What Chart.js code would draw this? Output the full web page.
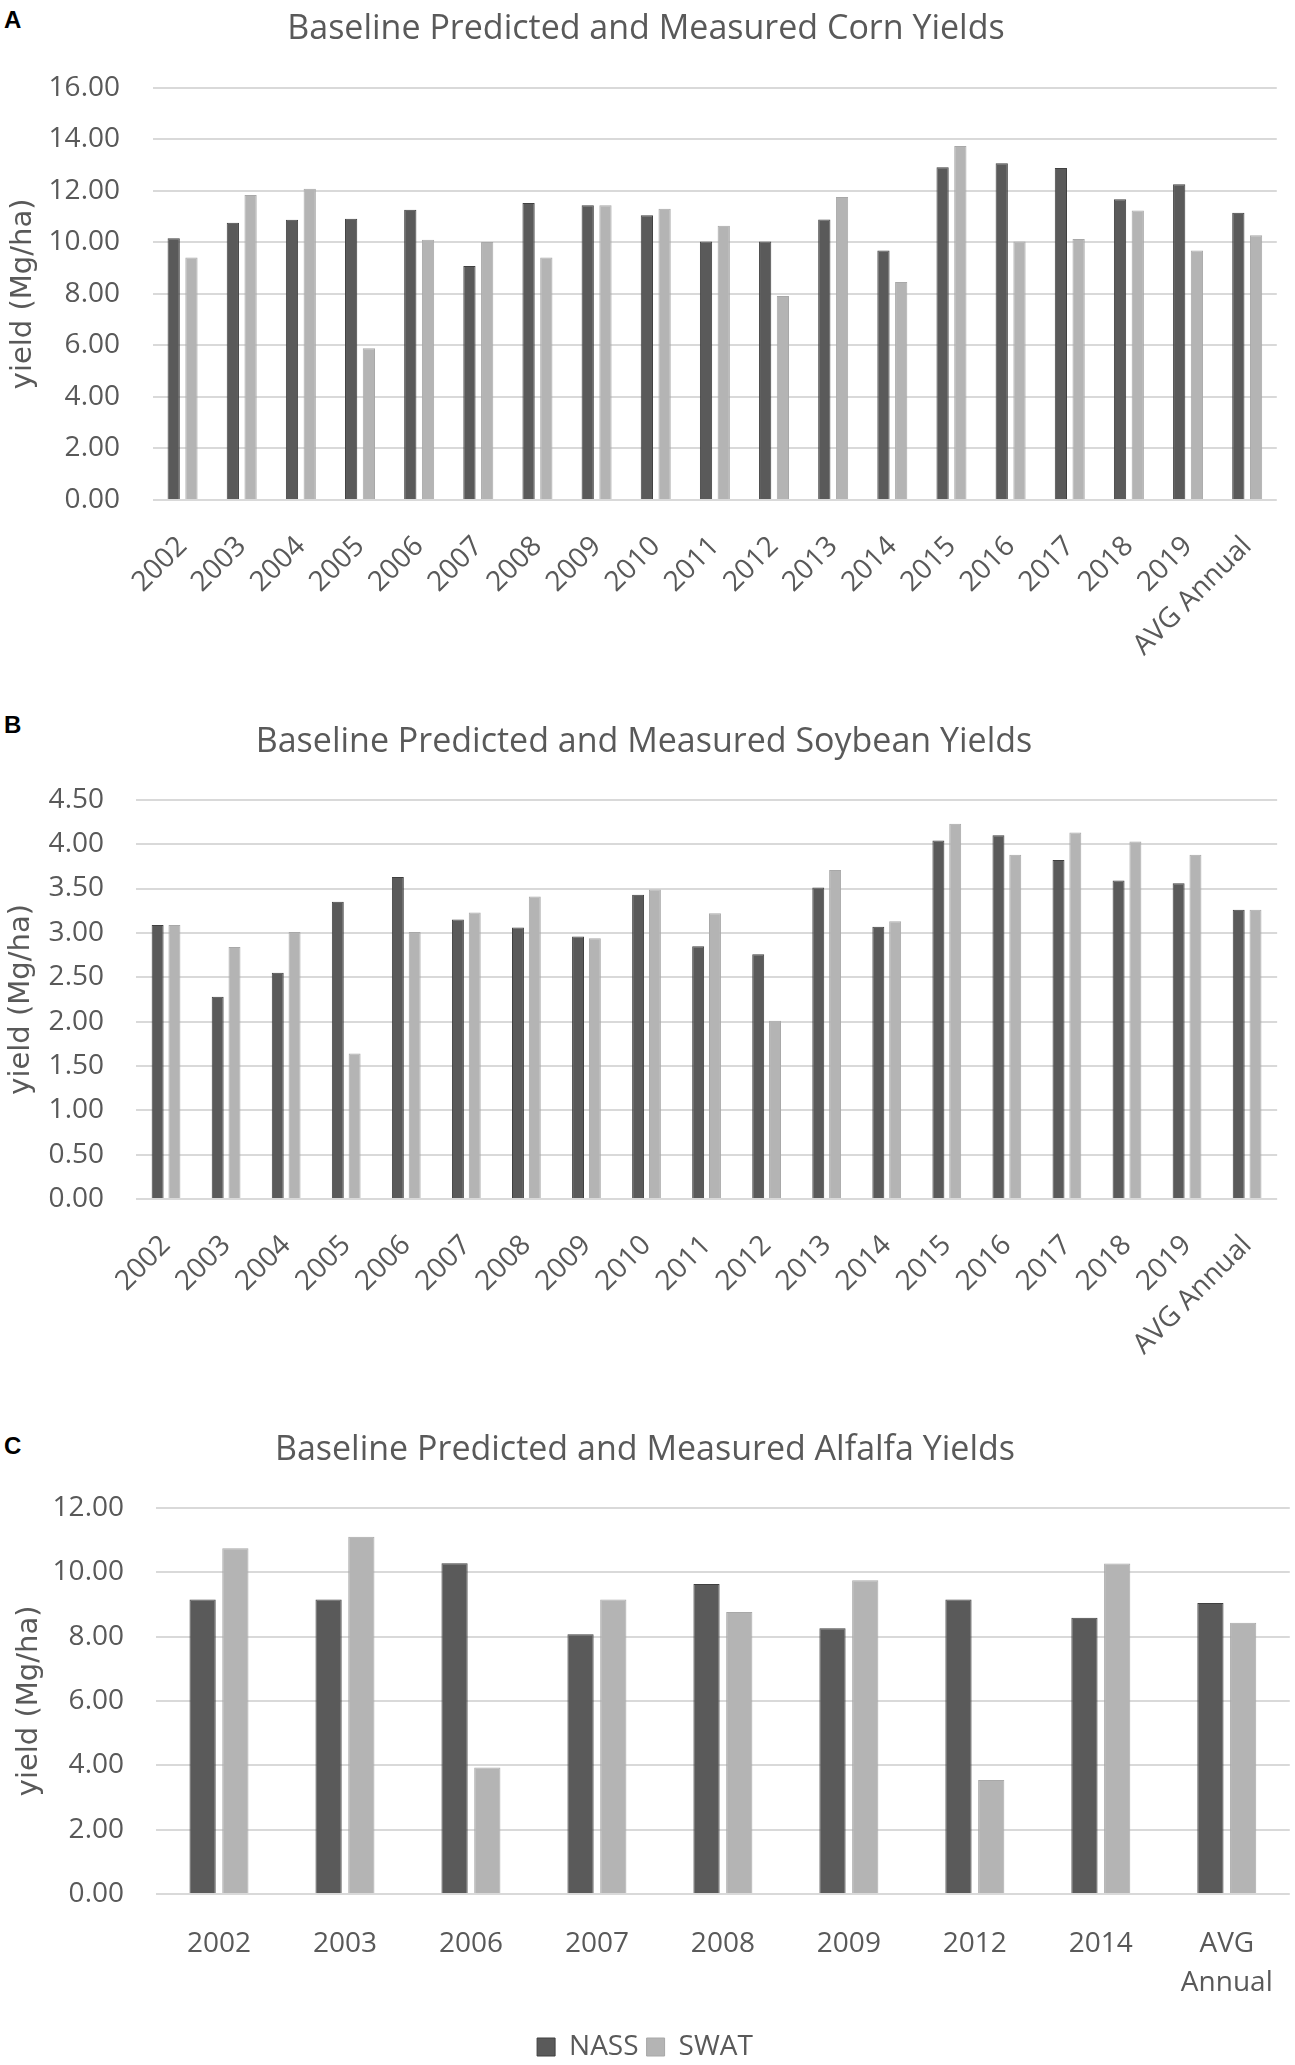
<!DOCTYPE html>
<html>
<head>
<meta charset="utf-8">
<script src="https://cdn.jsdelivr.net/npm/chart.js@4.4.1/dist/chart.umd.min.js"></script>
<style>
body{margin:0;background:#fff;width:1295px;height:2065px;position:relative;overflow:hidden}
canvas{position:absolute;left:0}
.letter{position:absolute;left:4px;font-family:"Liberation Sans",Arial,sans-serif;font-weight:bold;font-size:24px;line-height:24px;color:#000}
</style>
</head>
<body>
<div class="letter" style="top:8px">A</div>
<div class="letter" style="top:713px">B</div>
<div class="letter" style="top:1434px">C</div>
<canvas id="cornChart" width="1295" height="700" style="top:0px"></canvas>
<canvas id="soyChart" width="1295" height="690" style="top:700px"></canvas>
<canvas id="alfalfaChart" width="1295" height="681" style="top:1390px"></canvas>
<script>
// yields in Mg/ha
var cornYears = ["2002","2003","2004","2005","2006","2007","2008","2009","2010","2011","2012","2013","2014","2015","2016","2017","2018","2019","AVG Annual"];
var cornNASS = [10.16,10.76,10.88,10.92,11.27,9.08,11.53,11.44,11.05,10.03,10.03,10.89,9.68,12.92,13.07,12.89,11.67,12.26,11.15];
var cornSWAT = [9.41,11.84,12.08,5.89,10.10,10.01,9.41,11.44,11.31,10.65,7.92,11.76,8.46,13.74,10.03,10.13,11.24,9.68,10.28];

var soyYears = ["2002","2003","2004","2005","2006","2007","2008","2009","2010","2011","2012","2013","2014","2015","2016","2017","2018","2019","AVG Annual"];
var soyNASS = [3.09,2.28,2.55,3.35,3.63,3.15,3.06,2.96,3.43,2.85,2.76,3.51,3.07,4.04,4.10,3.82,3.59,3.56,3.26];
var soySWAT = [3.09,2.84,3.01,1.64,3.01,3.23,3.41,2.94,3.49,3.22,2.01,3.71,3.13,4.23,3.88,4.13,4.03,3.88,3.26];

var alfalfaYears = ["2002","2003","2006","2007","2008","2009","2012","2014",["AVG","Annual"]];
var alfalfaNASS = [9.15,9.15,10.28,8.07,9.63,8.26,9.15,8.58,9.04];
var alfalfaSWAT = [10.74,11.10,3.93,9.15,8.76,9.75,3.54,10.27,8.43];

var textGrey = "#595959";
var tickFont = {family: "Open Sans", size: 28, lineHeight: 1.4};

function buildChart(id, labels, nass, swat, cfg) {
  return new Chart(document.getElementById(id), {
    type: "bar",
    data: {
      labels: labels,
      datasets: [{
        label: "NASS",
        data: nass,
        backgroundColor: "#5a5a5a",
        borderColor: "#404040",
        borderWidth: 1,
        categoryPercentage: cfg.cat,
        barPercentage: cfg.bar
      }, {
        label: "SWAT",
        data: swat,
        backgroundColor: "#b4b4b4",
        borderColor: "#a8a8a8",
        borderWidth: 1,
        categoryPercentage: cfg.cat,
        barPercentage: cfg.bar
      }]
    },
    options: {
      responsive: false,
      animation: false,
      devicePixelRatio: 1,
      layout: {padding: {left: 0, right: cfg.right, top: 0, bottom: 0}},
      plugins: {
        title: {
          display: true,
          text: cfg.title,
          color: textGrey,
          font: {family: "Open Sans", size: 34, weight: "normal"},
          padding: {top: cfg.tTop, bottom: cfg.tBottom}
        },
        legend: {
          display: cfg.legend,
          position: "bottom",
          labels: {color: textGrey, font: {family: "Open Sans", size: 28}, boxWidth: 18, boxHeight: 18, padding: 8}
        },
        tooltip: {enabled: false}
      },
      scales: {
        x: {
          grid: {display: false},
          border: {display: false},
          ticks: {
            color: textGrey,
            font: tickFont,
            autoSkip: false,
            maxRotation: cfg.rot,
            minRotation: cfg.rot,
            padding: cfg.xPad
          },
          afterFit: function(s) { s.height = cfg.xH; }
        },
        y: {
          min: 0,
          max: cfg.max,
          ticks: {
            stepSize: cfg.step,
            color: textGrey,
            font: tickFont,
            padding: cfg.yPad,
            callback: function(v) { return v.toFixed(2); }
          },
          grid: {color: "#d9d9d9", lineWidth: 2, drawTicks: false},
          border: {display: false},
          title: {
            display: true,
            text: "yield (Mg/ha)",
            color: textGrey,
            font: {family: "DejaVu Sans", size: 29},
            padding: {top: cfg.ytPad, bottom: 0}
          },
          afterFit: function(s) { s.width = cfg.left; }
        }
      }
    }
  });
}

buildChart("cornChart", cornYears, cornNASS, cornSWAT, {
  title: "Baseline Predicted and Measured Corn Yields",
  max: 16, step: 2, left: 153, right: 3, xH: 200, tTop: 9, tBottom: 38,
  rot: 45, xPad: 20, yPad: 33, ytPad: 6, cat: 0.6, bar: 0.69, legend: false
});

buildChart("soyChart", soyYears, soyNASS, soySWAT, {
  title: "Baseline Predicted and Measured Soybean Yields",
  max: 4.5, step: 0.5, left: 136, right: 7, xH: 191, tTop: 22, tBottom: 37,
  rot: 45, xPad: 20, yPad: 32, ytPad: 4, cat: 0.56, bar: 0.71, legend: false
});

buildChart("alfalfaChart", alfalfaYears, alfalfaNASS, alfalfaSWAT, {
  title: "Baseline Predicted and Measured Alfalfa Yields",
  max: 12, step: 2, left: 156, right: 5, xH: 131, tTop: 40, tBottom: 37,
  rot: 0, xPad: 22, yPad: 32, ytPad: 12, cat: 0.52, bar: 0.8, legend: true
});
</script>
</body>
</html>
